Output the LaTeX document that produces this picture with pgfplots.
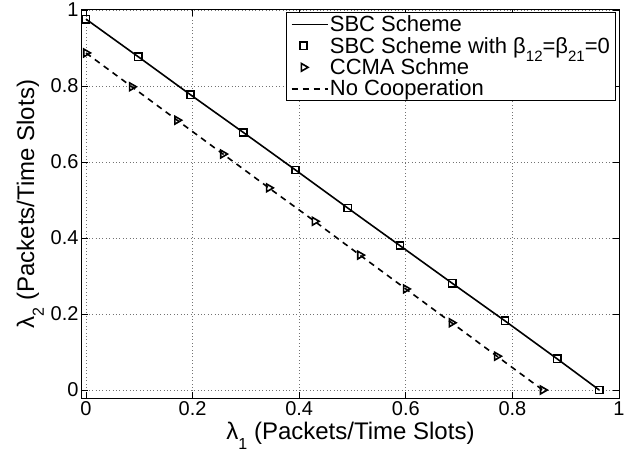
\documentclass[border=0pt]{standalone}
\usepackage{pgfplots}
\pgfplotsset{compat=1.18}
\usepackage{fontspec}
\setmainfont{Liberation Sans}
% MATLAB-like lowered subscript
\newcommand{\lsub}[2][15]{\raisebox{-0.4em}{\fontsize{#1}{#1}\selectfont #2}}
\pgfplotsset{
  lineleg/.style={legend image code/.code={\draw[##1] (0pt,0pt) -- (36pt,0pt);}},
  markleg/.style={legend image code/.code={\draw[##1] plot coordinates {(12pt,0pt)};}},
}

\begin{document}
\begin{tikzpicture}
\begin{axis}[
  scale only axis,
  width=537pt, height=388pt,
  xmin=-0.0075, xmax=1,
  ymin=-0.021, ymax=1,
  xtick={0,0.2,0.4,0.6,0.8,1},
  ytick={0,0.2,0.4,0.6,0.8,1},
  tick pos=both,
  tick align=inside,
  major tick length=6pt,
  every tick/.style={black, line width=0.8pt},
  xmajorgrids, ymajorgrids,
  grid style={black!55, line width=0.7pt, dash pattern=on 0.8pt off 2.6pt},
  axis line style={line width=1pt},
  /pgf/number format/assume math mode=true,
  tick label style={font=\fontsize{20}{20}\selectfont},
  label style={font=\fontsize{24}{24}\selectfont},
  xlabel={λ\lsub[16]{1} (Packets/Time Slots)},
  ylabel={λ\lsub[16]{2} (Packets/Time Slots)},
  legend cell align=left,
  legend style={at={(0.994,0.994)}, anchor=north east, draw=black,
    line width=0.8pt, font=\fontsize{22}{22}\selectfont,
    inner xsep=4pt, inner ysep=1.5pt,
    nodes={inner sep=1.5pt}, row sep=1pt},
]

% SBC Scheme
\addplot[black, line width=1.6pt, lineleg] coordinates {
  (0,0.976) (0.098,0.877) (0.196,0.777) (0.295,0.678) (0.393,0.579)
  (0.491,0.479) (0.589,0.380) (0.687,0.281) (0.786,0.182) (0.884,0.082)
  (0.963,0)
};
\addlegendentry{SBC Scheme}

% SBC Scheme with beta12=beta21=0
\addplot[only marks, black, mark=square, mark size=3.6pt,
  mark options={line width=1.6pt}, markleg] coordinates {
  (0,0.976) (0.098,0.877) (0.196,0.777) (0.295,0.678) (0.393,0.579)
  (0.491,0.479) (0.589,0.380) (0.687,0.281) (0.786,0.182) (0.884,0.082)
  (0.963,0)
};
\addlegendentry{SBC Scheme with β\lsub{12}=β\lsub{21}=0}

% CCMA
\addplot[only marks, black, mark=triangle, mark size=4.5pt,
  mark options={rotate=-90, line width=1.6pt}, markleg] coordinates {
  (0,0.887) (0.086,0.798) (0.171,0.710) (0.257,0.621) (0.343,0.532)
  (0.429,0.444) (0.514,0.355) (0.600,0.266) (0.686,0.177) (0.771,0.089)
  (0.857,0)
};
\addlegendentry{CCMA Schme}

% No Cooperation
\addplot[black, line width=1.6pt, dash pattern=on 6pt off 5pt, lineleg] coordinates {
  (0,0.887) (0.086,0.798) (0.171,0.710) (0.257,0.621) (0.343,0.532)
  (0.429,0.444) (0.514,0.355) (0.600,0.266) (0.686,0.177) (0.771,0.089)
  (0.857,0)
};
\addlegendentry{No Cooperation}

\end{axis}
\pgfresetboundingbox
\useasboundingbox ([shift={(-82pt,-57pt)}]current axis.south west)
  rectangle ([shift={(5pt,10pt)}]current axis.north east);
\end{tikzpicture}
\end{document}
